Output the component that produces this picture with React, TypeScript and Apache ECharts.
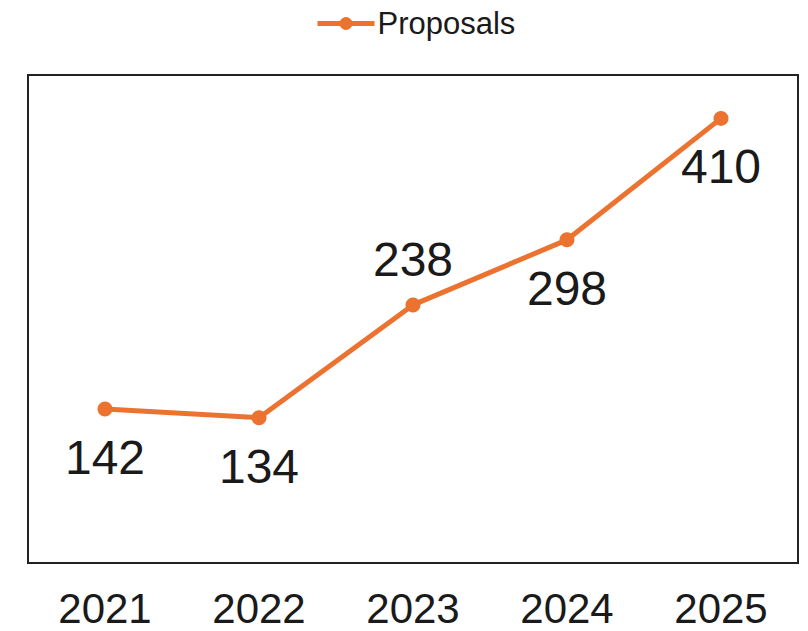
import React, { useEffect, useRef } from "react";
import * as echarts from "echarts";

const categories = ["2021", "2022", "2023", "2024", "2025"];
const proposals = [142, 134, 238, 298, 410];
const labelPositions = ["bottom", "bottom", "top", "bottom", "bottom"];
const seriesName = "Proposals";

export default function App() {
  const ref = useRef<HTMLDivElement>(null);
  useEffect(() => {
    if (!ref.current) return;
    const chart = echarts.init(ref.current, null, { renderer: "svg" });
    const font = "'Liberation Sans', Arial, sans-serif";
    const color = "#EC7230";
    chart.setOption({
      animation: false,
      textStyle: { fontFamily: font, color: "#1a1a1a" },
      legend: {
        top: 3,
        left: 310,
        itemWidth: 57,
        itemHeight: 16,
        itemGap: 10,
        lineStyle: { width: 5 },
        textStyle: { fontSize: 31, color: "#1a1a1a", fontFamily: font, padding: [0, 0, 0, -2] },
        data: [seriesName],
      },
      grid: {
        left: 28,
        right: 10,
        top: 75,
        bottom: 68,
        show: true,
        borderColor: "#222",
        borderWidth: 2,
        containLabel: false,
      },
      xAxis: {
        type: "category",
        data: categories,
        boundaryGap: true,
        axisLine: { show: true, lineStyle: { color: "#222", width: 2 } },
        axisTick: { show: false },
        axisLabel: { fontSize: 42, lineHeight: 36, color: "#1a1a1a", margin: 27, fontFamily: font },
        splitLine: { show: false },
      },
      yAxis: {
        type: "value",
        min: 0,
        max: 450,
        axisLine: { show: false },
        axisTick: { show: false },
        axisLabel: { show: false },
        splitLine: { show: false },
      },
      series: [
        {
          name: seriesName,
          type: "line",
          data: proposals.map((v, i) => ({
            value: v,
            label: {
              position: labelPositions[i],
              distance: labelPositions[i] === "top" ? 14 : 17,
            },
          })),
          symbol: "circle",
          symbolSize: 15,
          lineStyle: { color, width: 5 },
          itemStyle: { color },
          label: {
            show: true,
            fontSize: 48,
            color: "#1a1a1a",
            fontFamily: font,
          },
        },
      ],
    });
    return () => chart.dispose();
  }, []);
  return (
    <div
      ref={ref}
      style={{ position: "absolute", left: 0, top: 0, width: 808, height: 631 }}
    />
  );
}
